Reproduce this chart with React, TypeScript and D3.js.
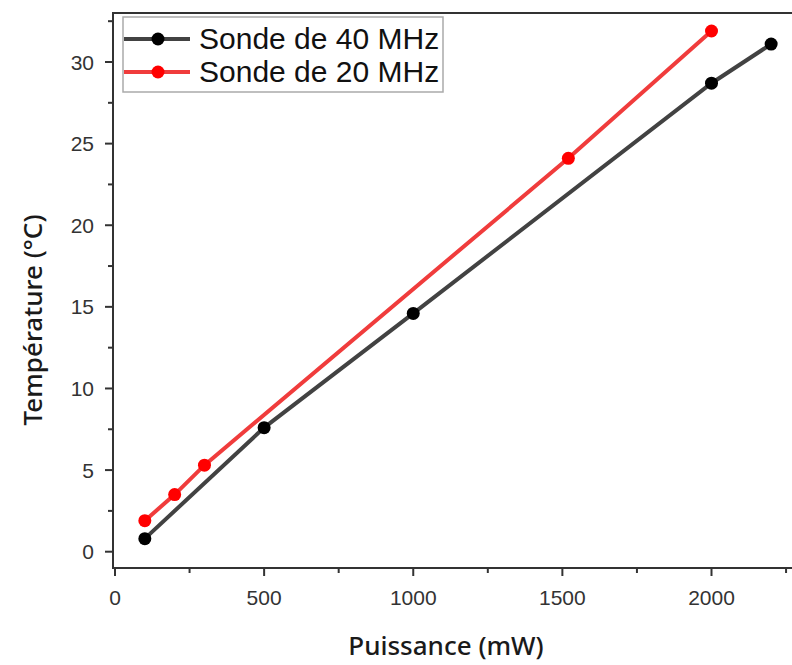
import React from "react";
import * as d3 from "d3";

const power40 = [100, 500, 1000, 2000, 2200];
const temp40 = [0.8, 7.6, 14.6, 28.7, 31.1];
const power20 = [100, 200, 300, 1520, 2000];
const temp20 = [1.9, 3.5, 5.3, 24.1, 31.9];
const xTicks = [0, 500, 1000, 1500, 2000];
const yTicks = [0, 5, 10, 15, 20, 25, 30];
const seriesNames = ["Sonde de 40 MHz", "Sonde de 20 MHz"];
const xTitle = "Puissance (mW)";
const yTitle = "Température (°C)";

const W = 792;
const H = 665;
const left = 113;
const top = 13;
const bottom = 568;

export default function App() {
  const x = d3.scaleLinear().domain([0, 2000]).range([115, 711.5]);
  const y = d3.scaleLinear().domain([0, 30]).range([551.7, 62]);
  const line = d3
    .line<[number, number]>()
    .x((d) => x(d[0]))
    .y((d) => y(d[1]));
  const s40: [number, number][] = power40.map((p, i) => [p, temp40[i]]);
  const s20: [number, number][] = power20.map((p, i) => [p, temp20[i]]);
  const xMinor = d3.range(250, 2500, 500);
  const yMinor = d3.range(2.5, 33, 5);
  const axisColor = "#333";
  const tickFont = "'Liberation Sans', Arial, sans-serif";
  const series = [
    { data: s40, line: "#424242", marker: "#000", name: seriesNames[0] },
    { data: s20, line: "#f03c3c", marker: "#ff0000", name: seriesNames[1] },
  ];
  return (
    <svg
      width={W}
      height={H}
      style={{ position: "fixed", left: 0, top: 0, background: "#fff" }}
    >
      <rect x={0} y={0} width={W} height={H} fill="#fff" />
      {series.map((s, i) => (
        <g key={i}>
          <path d={line(s.data) || ""} fill="none" stroke={s.line} strokeWidth={4} />
          {s.data.map((d, j) => (
            <circle key={j} cx={x(d[0])} cy={y(d[1])} r={6.5} fill={s.marker} />
          ))}
        </g>
      ))}
      <line x1={left} x2={W} y1={top} y2={top} stroke={axisColor} strokeWidth={2} />
      <line x1={left} x2={left} y1={top - 1} y2={bottom + 1} stroke={axisColor} strokeWidth={2} />
      <line x1={left - 1} x2={W} y1={bottom} y2={bottom} stroke={axisColor} strokeWidth={2} />
      {xTicks.map((t) => (
        <g key={t}>
          <line x1={x(t)} x2={x(t)} y1={bottom} y2={bottom + 8} stroke={axisColor} strokeWidth={2} />
          <text
            x={x(t)}
            y={605}
            textAnchor="middle"
            fontFamily={tickFont}
            fontSize={21}
            fill="#333"
          >
            {t}
          </text>
        </g>
      ))}
      {xMinor.map((t) => (
        <line key={t} x1={x(t)} x2={x(t)} y1={bottom} y2={bottom + 5} stroke={axisColor} strokeWidth={2} />
      ))}
      {yTicks.map((t) => (
        <g key={t}>
          <line x1={left - 8} x2={left} y1={y(t)} y2={y(t)} stroke={axisColor} strokeWidth={2} />
          <text
            x={94}
            y={y(t) + 7.5}
            textAnchor="end"
            fontFamily={tickFont}
            fontSize={21}
            fill="#333"
          >
            {t}
          </text>
        </g>
      ))}
      {yMinor.map((t) => (
        <line key={t} x1={left - 5} x2={left} y1={y(t)} y2={y(t)} stroke={axisColor} strokeWidth={2} />
      ))}
      <text
        x={446}
        y={655}
        textAnchor="middle"
        fontFamily="'Noto Sans', sans-serif"
        fontWeight={500}
        fontSize={26}
        fill="#1a1a1a"
      >
        {xTitle}
      </text>
      <text
        transform={`translate(42,320) rotate(-90)`}
        textAnchor="middle"
        fontFamily="'Noto Sans', sans-serif"
        fontWeight={500}
        fontSize={26}
        fill="#1a1a1a"
      >
        {yTitle}
      </text>
      <rect x={123} y={17} width={320} height={75} fill="#fff" stroke="#aaa" strokeWidth={1.5} />
      {series.map((s, i) => {
        const cy = 39 + i * 33;
        return (
          <g key={i}>
            <line x1={124} x2={190} y1={cy} y2={cy} stroke={s.line} strokeWidth={4} />
            <circle cx={158} cy={cy} r={6.5} fill={s.marker} />
            <text
              x={199}
              y={cy + 10}
              fontFamily={tickFont}
              fontSize={30}
              fill="#111"
            >
              {s.name}
            </text>
          </g>
        );
      })}
    </svg>
  );
}
